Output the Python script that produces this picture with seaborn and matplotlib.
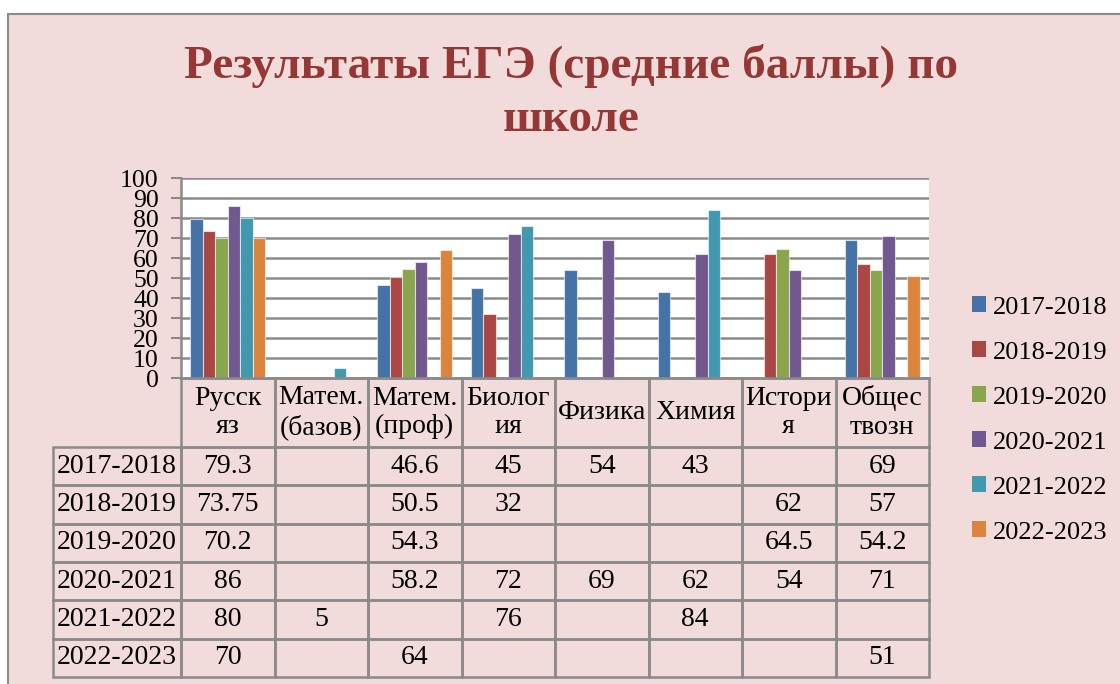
import numpy as np
import pandas as pd
import seaborn as sns
import matplotlib.pyplot as plt
from matplotlib.patches import Rectangle

# ---- data ----
subjects = ["Русск\nяз", "Матем.\n(базов)", "Матем.\n(проф)", "Биолог\nия",
            "Физика", "Химия", "Истори\nя", "Общес\nтвозн"]
years = ["2017-2018", "2018-2019", "2019-2020", "2020-2021", "2021-2022", "2022-2023"]
nan = np.nan
y2017 = [79.3, nan, 46.6, 45, 54, 43, nan, 69]
y2018 = [73.75, nan, 50.5, 32, nan, nan, 62, 57]
y2019 = [70.2, nan, 54.3, nan, nan, nan, 64.5, 54.2]
y2020 = [86, nan, 58.2, 72, 69, 62, 54, 71]
y2021 = [80, 5, nan, 76, nan, 84, nan, nan]
y2022 = [70, nan, 64, nan, nan, nan, nan, 51]
series = [y2017, y2018, y2019, y2020, y2021, y2022]

colors = ["#4572a7", "#aa4643", "#89a54e", "#71588f", "#4198af", "#db843d"]
pink = "#f2dcdb"
grey = "#8a8a8a"

rows = []
for yr, vals in zip(years, series):
    for s, v in zip(subjects, vals):
        rows.append({"subject": s, "year": yr, "score": v})
df = pd.DataFrame(rows).dropna()

plt.rcParams['font.family'] = ['Liberation Serif', 'DejaVu Serif']

fig = plt.figure(figsize=(11.2, 6.84), dpi=100, facecolor="white")
fig.add_artist(Rectangle((8 / 1120, -0.01), 1.0, 1 - 14 / 684 + 0.01,
                         transform=fig.transFigure, facecolor=pink,
                         edgecolor=grey, linewidth=1.5, zorder=-10))

# plot area in pixels: x 181..929, y 178..378
ax_w, ax_h = 748, 200
ax = fig.add_axes([181 / 1120, 1 - 378 / 684, ax_w / 1120, ax_h / 684])
ax.set_facecolor("white")

sns.barplot(data=df, x="subject", y="score", hue="year", order=subjects,
            hue_order=years, palette=colors, saturation=1, errorbar=None,
            width=0.8, edgecolor=(1, 1, 1, 0.6), linewidth=0.8,
            legend=False, ax=ax)

ax.set_xlim(-0.5, len(subjects) - 0.5)
ax.set_ylim(0, 100)
ax.set_yticks(range(0, 101, 10))
ax.yaxis.grid(True, color=grey, linewidth=1.8)
ax.set_axisbelow(True)
ax.set_xticks([])
ax.set_xlabel("")
ax.set_ylabel("")
ax.tick_params(axis="y", labelsize=18.5, length=7, width=1.5, color=grey, pad=9)
for sp in ["top", "right"]:
    ax.spines[sp].set_visible(False)
for sp in ["left", "bottom"]:
    ax.spines[sp].set_color(grey)
    ax.spines[sp].set_linewidth(1.8)

# ---- data table below the chart (row labels stick out to the left) ----
cell_text = [["" if np.isnan(v) else f"{v:g}" for v in vals] for vals in series]
tbl = ax.table(cellText=cell_text, rowLabels=years, colLabels=subjects,
               cellLoc="center", rowLoc="center", colLoc="center",
               loc="bottom")
tbl._autoColumns = []  # keep fixed width for the row label column
tbl.auto_set_font_size(False)
tbl.set_fontsize(20)
for (r, c), cell in tbl.get_celld().items():
    cell.set_facecolor("none")
    cell.set_edgecolor(grey)
    cell.set_linewidth(1.8)
    cell.set_height((69 if r == 0 else 38.3) / ax_h)
    cell.set_width((128 if c == -1 else 93.5) / ax_w)
    cell.get_text().set_fontfamily(['Liberation Serif', 'DejaVu Serif'])

# ---- legend ----
handles = [Rectangle((0, 0), 1, 1, facecolor=c) for c in colors]
fig.legend(handles, years, loc="center left",
           bbox_to_anchor=(948 / 1120, 1 - 420 / 684), frameon=False,
           fontsize=19, handlelength=0.55, handleheight=0.55,
           handletextpad=0.25, labelspacing=0.86)

# ---- title ----
title_color = "#953735"
fig.text(0.51, 1 - 66 / 684, "Результаты ЕГЭ (средние баллы) по", ha="center",
         va="center", fontsize=34, fontweight="bold", color=title_color)
fig.text(0.51, 1 - 120 / 684, "школе", ha="center", va="center",
         fontsize=34, fontweight="bold", color=title_color)

fig.savefig("out.png", dpi=100)
